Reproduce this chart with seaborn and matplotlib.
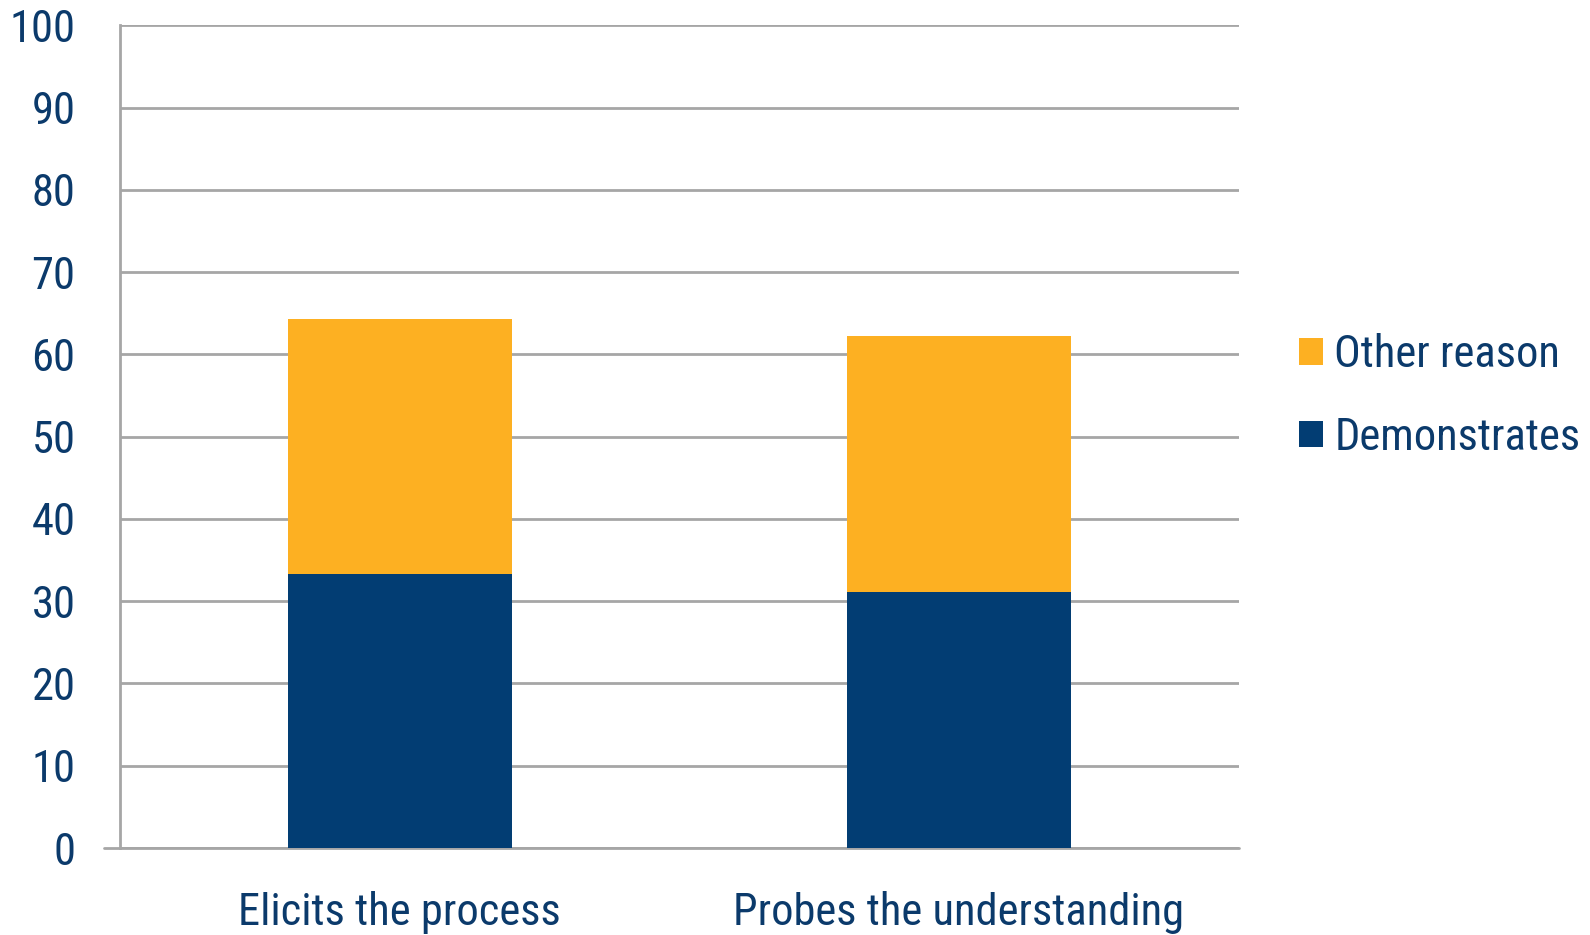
import matplotlib
matplotlib.use("Agg")
import matplotlib.pyplot as plt
from matplotlib.patches import Patch
import pandas as pd
import seaborn as sns

categories = ["Elicits the process", "Probes the understanding"]
demonstrates = [33.3, 31.1]
other_reason = [31.0, 31.1]
series_names = ["Other reason", "Demonstrates"]
y_ticks = [0, 10, 20, 30, 40, 50, 60, 70, 80, 90, 100]

NAVY = "#023D73"
ORANGE = "#FDB022"
GRID = "#A6A6A6"
TEXT = "#0B3A6B"

sns.set_style("white")
plt.rcParams["font.family"] = ["Roboto Condensed", "Archivo Narrow", "Liberation Sans", "DejaVu Sans"]

df = pd.DataFrame({
    "category": categories,
    "demonstrates": demonstrates,
    "total": [d + o for d, o in zip(demonstrates, other_reason)],
})

fig = plt.figure(figsize=(15.9, 9.35), dpi=100)
ax = fig.add_axes([0.0755, 0.093, 0.7035, 0.880])

# stacked bars: total in orange, demonstrates drawn over it
sns.barplot(data=df, x="category", y="total", color=ORANGE, width=0.4,
            saturation=1, linewidth=0, ax=ax, zorder=3)
sns.barplot(data=df, x="category", y="demonstrates", color=NAVY, width=0.4,
            saturation=1, linewidth=0, ax=ax, zorder=4)

ax.set_xlim(-0.5, 1.5)
ax.set_ylim(0, 100)
ax.set_yticks(y_ticks)
ax.set_xlabel("")
ax.set_ylabel("")

ax.yaxis.grid(True, color=GRID, linewidth=2, zorder=0)
ax.set_axisbelow(True)
for side in ["top", "right", "bottom"]:
    ax.spines[side].set_visible(False)
ax.spines["left"].set_color(GRID)
ax.spines["left"].set_linewidth(2)

ax.tick_params(axis="y", length=11, width=2, color=GRID, pad=21,
               labelsize=32, labelcolor=TEXT)
ax.tick_params(axis="x", which="major", length=0, pad=31,
               labelsize=32, labelcolor=TEXT)
ax.set_xticks([-0.5, 0.5, 1.5], minor=True)
ax.tick_params(axis="x", which="minor", length=11, width=2, color=GRID)
# baseline extends left like the y ticks
ax.axhline(0, color=GRID, linewidth=2, xmin=-0.014, clip_on=False, zorder=2)

handles = [Patch(facecolor=ORANGE, edgecolor="none"),
           Patch(facecolor=NAVY, edgecolor="none")]
leg = ax.legend(handles, series_names, loc="center left",
                bbox_to_anchor=(1.018, 0.549), frameon=False, fontsize=32,
                handlelength=0.55, handleheight=0.55, handletextpad=0.25,
                labelspacing=0.92)
for t in leg.get_texts():
    t.set_color(TEXT)

fig.savefig("out.png", dpi=100)
